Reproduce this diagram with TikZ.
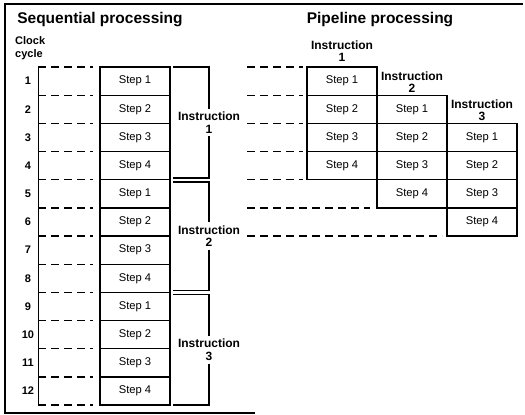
\documentclass[tikz,border=0pt]{standalone}
\usepackage{fontspec}
\setmainfont{Liberation Sans}
\begin{document}
\begin{tikzpicture}[x=1pt,y=-1pt,
  stepbox/.style={draw,line width=1.3pt,minimum width=70pt,minimum height=28.17pt,inner sep=0pt,font=\fontsize{11.2}{12}\selectfont},
  dline/.style={line width=1.3pt,dash pattern=on 8pt off 5pt},
  bline/.style={line width=1.3pt},
  lbl/.style={font=\fontsize{12}{12.5}\selectfont\bfseries,align=center,inner sep=3pt},
  num/.style={font=\fontsize{11}{13}\selectfont\bfseries},
  ttl/.style={font=\fontsize{15.5}{18}\selectfont\bfseries}
]
\useasboundingbox (0,0) rectangle (525,415);
\def\rh{28.17}
\def\rt{67}
% frame
\coordinate (f1) at (255,413);
\coordinate (f2) at (5,413);
\coordinate (f3) at (5,4);
\coordinate (f4) at (523,4);
\draw[line width=1.2pt] (f1) -- (f2) -- (f3) -- (f4);
% titles
\node[ttl] (t1) at (100,20) {Sequential processing};
\node[ttl] (t2) at (380,20) {Pipeline processing};
\node[num,anchor=west,align=left,inner sep=0pt] (cc) at (15,48) {Clock\\cycle};
% sequential
\foreach \i in {1,...,12}{
  \pgfmathtruncatemacro{\s}{mod(\i-1,4)+1}
  \node[num] (n\i) at (28,{\rt+(\i-0.5)*\rh}) {\i};
  \node[stepbox] (ls\i) at (135,{\rt+(\i-0.5)*\rh}) {Step \s};
}
\foreach \i in {0,...,12}{
  \coordinate (da\i) at (38,{\rt+\i*\rh});
  \coordinate (db\i) at (93,{\rt+\i*\rh});
  \draw[dline] (da\i) -- (db\i);
}
\draw[line width=0.9pt] (da0) -- (da12);
\foreach \k/\t/\b in {1/67/178,2/182/290.5,3/294.5/405}{
  \node[lbl] (li\k) at (209,{(\t+\b)/2}) {Instruction\\\k};
  \coordinate (bt\k) at (173,\t);
  \coordinate (btr\k) at (209,\t);
  \coordinate (bb\k) at (173,\b);
  \coordinate (bbr\k) at (209,\b);
  \draw[bline] (bt\k) -- (btr\k) -- (li\k.north);
  \draw[bline] (li\k.south) -- (bbr\k) -- (bb\k);
}
% pipeline
\foreach \k/\x in {1/342,2/412,3/482}{
  \foreach \j in {1,...,4}{
    \node[stepbox] (p\k\j) at (\x,{\rt+(\k+\j-1.5)*\rh}) {Step \j};
  }
}
\node[lbl,inner sep=0pt] (h1) at (342,51) {Instruction\\1};
\node[lbl,inner sep=0pt] (h2) at (412,82) {Instruction\\2};
\node[lbl,inner sep=0pt] (h3) at (482,110) {Instruction\\3};
\foreach \i/\e in {0/303,1/303,2/303,3/303,4/303,5/370,6/442}{
  \coordinate (pa\i) at (247,{\rt+\i*\rh});
  \coordinate (pb\i) at (\e,{\rt+\i*\rh});
  \draw[dline] (pa\i) -- (pb\i);
}
\end{tikzpicture}
\end{document}
